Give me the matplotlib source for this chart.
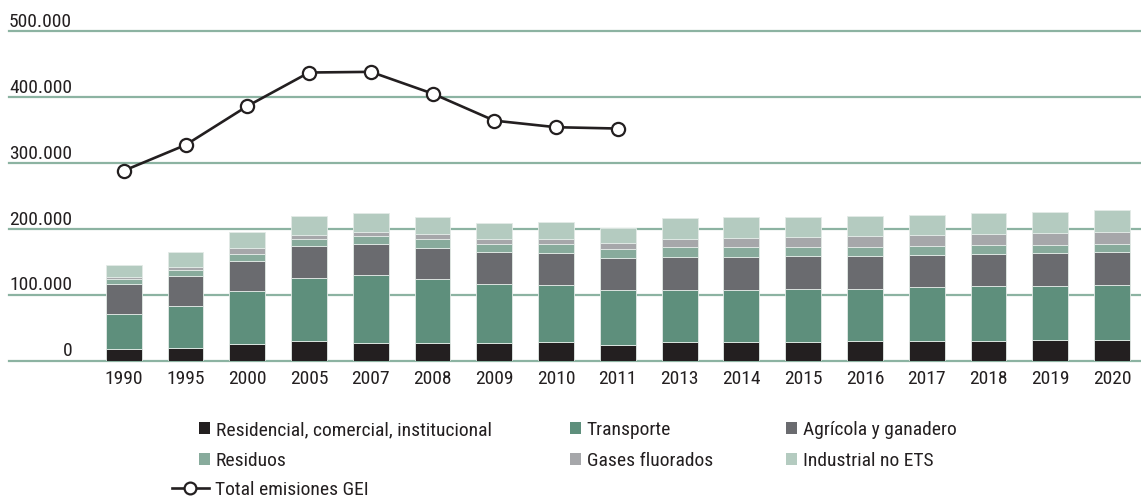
import numpy as np
import matplotlib
matplotlib.use("Agg")
from matplotlib import pyplot as plt
from matplotlib.patches import Patch
from matplotlib.lines import Line2D
import matplotlib.transforms as mtransforms

plt.rcParams['font.family'] = ['Roboto Condensed', 'Archivo Narrow', 'DejaVu Sans']

# years on the x axis
years = ["1990", "1995", "2000", "2005", "2007", "2008", "2009", "2010", "2011",
         "2013", "2014", "2015", "2016", "2017", "2018", "2019", "2020"]

# emissions by sector (t CO2-eq)
residencial = [16700, 19700, 24700, 29300, 27300, 27300, 25800, 27800, 23200,
               28800, 28800, 28800, 29800, 29800, 29800, 30800, 30800]
transporte = [53600, 62700, 80500, 96600, 101700, 97100, 91000, 87500, 84500,
              78900, 78900, 79900, 79400, 81000, 82900, 83000, 83500]
agricola = [45900, 46000, 45900, 47100, 48000, 46500, 48000, 48000, 47100,
            49500, 49500, 50000, 49500, 50000, 49100, 49500, 50500]
residuos = [7600, 9100, 10700, 11000, 12000, 13600, 12700, 13600, 14100,
            15200, 15200, 13700, 14200, 13700, 14200, 12700, 12700]
gases = [3100, 5100, 9100, 6600, 5700, 7600, 7600, 8200, 9600,
         12700, 14200, 15200, 16200, 16100, 16700, 18200, 17600]
industrial = [17700, 21300, 23800, 29400, 29300, 26400, 23700, 24800, 23300,
              30800, 30400, 30400, 30400, 30900, 30800, 30800, 32900]

# total GEI emissions (only up to 2011)
total_years = ["1990", "1995", "2000", "2005", "2007", "2008", "2009", "2010", "2011"]
total_gei = [288000, 327000, 386000, 437000, 438000, 405000, 364000, 354000, 352000]

labels = ["Residencial, comercial, institucional", "Transporte", "Agrícola y ganadero",
          "Residuos", "Gases fluorados", "Industrial no ETS"]
colors = ["#231f20", "#5e8f7c", "#6a6b6f", "#88ab9c", "#a6a7aa", "#b4cbc0"]
series = [residencial, transporte, agricola, residuos, gases, industrial]

yticks = [0, 100000, 200000, 300000, 400000, 500000]
ytick_labels = ["0", "100.000", "200.000", "300.000", "400.000", "500.000"]

txt_col = "#231f20"
grid_col = "#8cb3a2"
fs = 14

W, H = 1141, 501
fig = plt.figure(figsize=(W / 100, H / 100), dpi=100)
ax = fig.add_axes([9 / W, 1 - 360.5 / H, 1 - 9 / W, (360.5 - 31) / H])

x = np.arange(len(years))
bottom = np.zeros(len(years))
for vals, col, lab in zip(series, colors, labels):
    ax.bar(x, vals, 0.58, bottom=bottom, color=col, edgecolor="#e3ebe7",
           linewidth=0.6, zorder=2, label=lab)
    bottom += np.array(vals)

xt = [years.index(y) for y in total_years]
ax.plot(xt, total_gei, color=txt_col, lw=1.9, marker="o", markersize=9.5,
        markerfacecolor="white", markeredgecolor=txt_col, markeredgewidth=1.6,
        zorder=4, clip_on=False)

ax.set_xlim(-1.858, 16.47)
ax.set_ylim(0, 500000)
for s in ax.spines.values():
    s.set_visible(False)
for t in yticks:
    ax.axhline(t, color=grid_col, lw=1.6, zorder=1, clip_on=False)
ax.set_yticks([])
ax.set_xticks(x)
ax.set_xticklabels(years, fontsize=fs, color=txt_col)
ax.tick_params(axis="x", length=0, pad=6.5)

trans = mtransforms.blended_transform_factory(ax.transAxes, ax.transData)
for t, lab in zip(yticks, ytick_labels):
    ax.annotate(lab, xy=(63 / (W - 9), t), xycoords=trans, xytext=(0, 3),
                textcoords="offset points", ha="right", va="baseline",
                fontsize=fs, color=txt_col)

# legend: three small columns of squares, then the line entry
col_x = [199, 570, 786]
for k in range(3):
    hs = [Patch(facecolor=colors[k]), Patch(facecolor=colors[k + 3])]
    ls = [labels[k], labels[k + 3]]
    leg = fig.legend(hs, ls, loc="upper left", bbox_to_anchor=(col_x[k] / W, 1 - 421 / H),
                     frameon=False, fontsize=fs, handlelength=0.55, handleheight=0.55,
                     handletextpad=0.3, labelspacing=0.65, borderpad=0, borderaxespad=0,
                     labelcolor=txt_col)
line_h = Line2D([], [], color=txt_col, lw=1.9, marker="o", markersize=8.5,
                markerfacecolor="white", markeredgecolor=txt_col, markeredgewidth=1.6)
fig.legend([line_h], ["Total emisiones GEI"], loc="upper left",
           bbox_to_anchor=(172 / W, 1 - 481 / H), frameon=False, fontsize=fs,
           handlelength=1.9, handletextpad=0.3, borderpad=0, borderaxespad=0,
           labelcolor=txt_col)

fig.savefig("out.png", dpi=100)
